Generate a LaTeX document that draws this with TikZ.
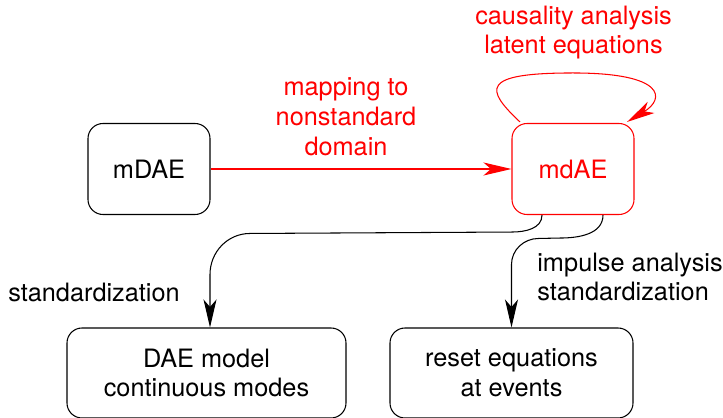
\documentclass[tikz,border=0pt]{standalone}
\usepackage{fontspec}
\setmainfont{TeX Gyre Heros}
\usetikzlibrary{arrows.meta,positioning,calc}

\begin{document}
\begin{tikzpicture}[
    font=\fontsize{14.4}{17}\selectfont,
    box/.style={draw, rounded corners=0.3cm, line width=0.6pt, align=center, inner sep=0pt},
    conn/.style={line width=0.6pt, -{Stealth[length=0.56cm, width=0.26cm, inset=0.15cm]}},
    lbl/.style={inner sep=0pt, align=center}
  ]
    \useasboundingbox (0,0) rectangle (14.46,8.34);
    % upper row
    \node[box, minimum width=2.44cm, minimum height=1.82cm] (mDAE) at (2.98,4.96) {mDAE};
    \node[box, red, minimum width=2.44cm, minimum height=1.82cm] (mdAE) at (11.46,4.96) {mdAE};
    % lower row
    \node[box, minimum width=5.58cm, minimum height=1.8cm] (DAE) at (4.13,0.88) {DAE model\\continuous modes};
    \node[box, minimum width=4.86cm, minimum height=1.8cm] (reset) at (10.23,0.88) {reset equations\\at events};

    \draw[conn, red] (mDAE) -- (mdAE);
    \node[lbl, red] (mapping) at (6.92,6.0) {mapping to\\nonstandard\\domain};

    % self loop on mdAE
    \coordinate (ls) at ($(mdAE.north)+(-1.06,0.02)$);
    \coordinate (le) at ($(mdAE.north)+(1.08,0.02)$);
    \draw[conn, red] (ls) .. controls ($(mdAE.north)+(-1.76,0.68)$) and ($(mdAE.north)+(-1.86,1.0)$) .. ($(mdAE.north)+(0,1.0)$)
      .. controls ($(mdAE.north)+(1.86,1.0)$) and ($(mdAE.north)+(1.84,0.48)$) .. (le);
    \node[lbl, red] (causal) at (11.47,7.69) {causality analysis\\latent equations};

    % down to the lower row
    \coordinate (l0) at ($(mdAE.south)+(-0.62,0)$);
    \coordinate (l1) at ($(DAE.north)+(0.07,0)$);
    \draw[conn] (l0) to[out=-90,in=0] ($(l0)+(-0.6,-0.34)$) -- ($(l1)+(0.8,1.88)$) to[out=180,in=90] ($(l1)+(0,1.06)$) -- (l1);
    \coordinate (r0) at ($(mdAE.south)+(0.6,0)$);
    \draw[conn] (r0) to[out=-90,in=0] ($(r0)+(-0.86,-0.46)$) -- ($(reset.north)+(0.54,1.78)$) to[out=180,in=90] ($(reset.north)+(0,1.26)$) -- (reset.north);

    \node[lbl] (std) at (1.88,2.5) {standardization};
    \node[lbl, anchor=west, align=left] (impulse) at (10.74,2.8) {impulse analysis\\standardization};
\end{tikzpicture}
\end{document}
